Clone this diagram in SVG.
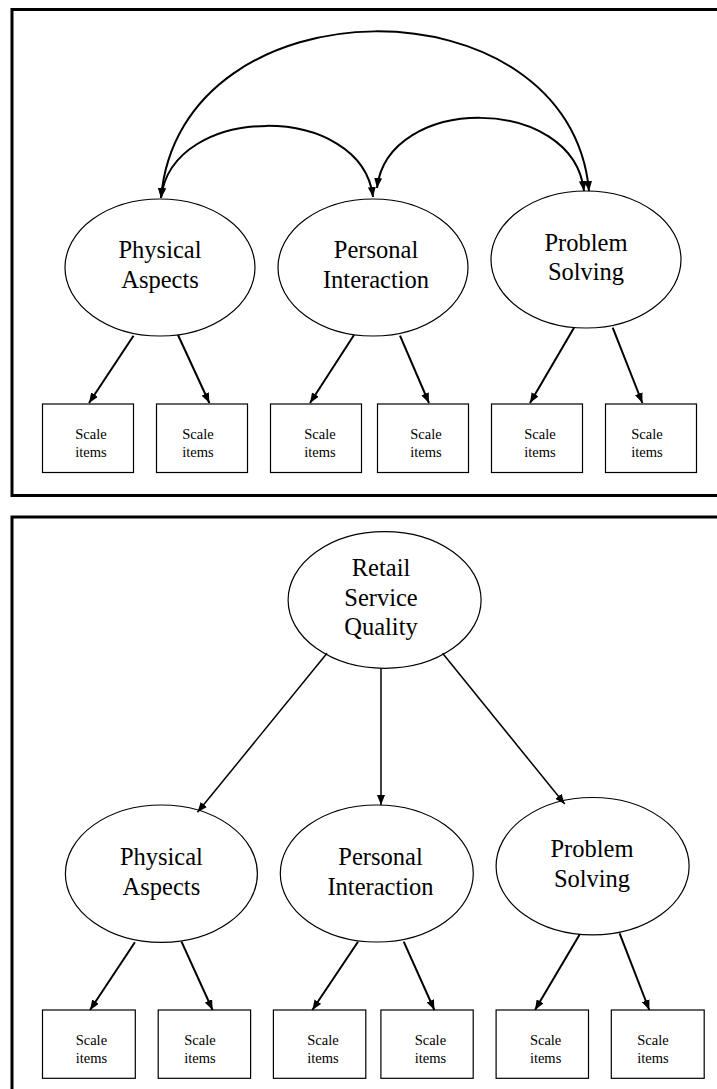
<svg xmlns="http://www.w3.org/2000/svg" width="717" height="1089" viewBox="0 0 717 1089">
<style>
.panel{fill:none;stroke:#000;stroke-width:3}
.lat{fill:#fff;stroke:#000;stroke-width:1.2}
.box{fill:#fff;stroke:#000;stroke-width:1.2}
.big{font-family:"Liberation Serif","Times New Roman",serif;font-size:24.5px;text-anchor:middle;fill:#000}
.small{font-family:"Liberation Serif","Times New Roman",serif;font-size:14.5px;text-anchor:middle;fill:#000}
.arc{fill:none;stroke:#000;stroke-width:2;marker-start:url(#ah);marker-end:url(#ah)}
.ar{fill:none;stroke:#000;stroke-width:2;marker-end:url(#ah)}
.ar1{fill:none;stroke:#000;stroke-width:1.5;marker-end:url(#ah)}
</style>
<defs>
<marker id="ah" viewBox="0 0 10 8" refX="10" refY="4" markerWidth="10" markerHeight="8" markerUnits="userSpaceOnUse" orient="auto-start-reverse">
<path d="M0,0 L10,4 L0,8 Z" fill="#000"/>
</marker>
</defs>
<rect class="panel" x="12" y="9.5" width="720" height="486"/>
<rect class="panel" x="12" y="517" width="720" height="600"/>

<g id="top-physical"><ellipse class="lat" cx="160" cy="267.5" rx="95" ry="68.5"/><text class="big" x="160" y="258">Physical</text><text class="big" x="160" y="288">Aspects</text></g>
<g id="top-personal"><ellipse class="lat" cx="373" cy="267.5" rx="95" ry="68.5"/><text class="big" x="376" y="258">Personal</text><text class="big" x="376" y="288">Interaction</text></g>
<g id="top-problem"><ellipse class="lat" cx="586" cy="259.5" rx="95" ry="68.5"/><text class="big" x="586" y="250.5">Problem</text><text class="big" x="586" y="280">Solving</text></g>

<g id="top-box1"><rect class="box" x="42.5" y="404" width="91" height="68.5"/><text class="small" x="91" y="439">Scale</text><text class="small" x="91" y="457">items</text></g>
<g id="top-box2"><rect class="box" x="156.5" y="404" width="91" height="68.5"/><text class="small" x="198" y="439">Scale</text><text class="small" x="198" y="457">items</text></g>
<g id="top-box3"><rect class="box" x="270.5" y="404" width="91" height="68.5"/><text class="small" x="320" y="439">Scale</text><text class="small" x="320" y="457">items</text></g>
<g id="top-box4"><rect class="box" x="377.5" y="404" width="91" height="68.5"/><text class="small" x="426" y="439">Scale</text><text class="small" x="426" y="457">items</text></g>
<g id="top-box5"><rect class="box" x="491.5" y="404" width="91" height="68.5"/><text class="small" x="540" y="439">Scale</text><text class="small" x="540" y="457">items</text></g>
<g id="top-box6"><rect class="box" x="605.5" y="404" width="91" height="68.5"/><text class="small" x="647" y="439">Scale</text><text class="small" x="647" y="457">items</text></g>

<g id="bot-retail"><ellipse class="lat" cx="384.6" cy="600" rx="96.5" ry="68.3"/><text class="big" x="381" y="576">Retail</text><text class="big" x="381" y="606">Service</text><text class="big" x="381" y="635">Quality</text></g>
<g id="bot-physical"><ellipse class="lat" cx="161.4" cy="873.7" rx="96" ry="68.7"/><text class="big" x="161.4" y="865">Physical</text><text class="big" x="161.4" y="895">Aspects</text></g>
<g id="bot-personal"><ellipse class="lat" cx="376.8" cy="873.5" rx="96.5" ry="68.5"/><text class="big" x="380.5" y="865">Personal</text><text class="big" x="380.5" y="895">Interaction</text></g>
<g id="bot-problem"><ellipse class="lat" cx="592.6" cy="866.2" rx="96.5" ry="68.7"/><text class="big" x="592" y="856.7">Problem</text><text class="big" x="592" y="886.7">Solving</text></g>

<g id="bot-box1"><rect class="box" x="42.5" y="1010" width="92.8" height="68.3"/><text class="small" x="91.4" y="1045">Scale</text><text class="small" x="91.4" y="1063">items</text></g>
<g id="bot-box2"><rect class="box" x="158.2" y="1010" width="92.4" height="68.3"/><text class="small" x="200" y="1045">Scale</text><text class="small" x="200" y="1063">items</text></g>
<g id="bot-box3"><rect class="box" x="273.4" y="1010" width="92.4" height="68.3"/><text class="small" x="323" y="1045">Scale</text><text class="small" x="323" y="1063">items</text></g>
<g id="bot-box4"><rect class="box" x="380.9" y="1010" width="92.3" height="68.3"/><text class="small" x="430.4" y="1045">Scale</text><text class="small" x="430.4" y="1063">items</text></g>
<g id="bot-box5"><rect class="box" x="496.1" y="1010" width="92.4" height="68.3"/><text class="small" x="545.6" y="1045">Scale</text><text class="small" x="545.6" y="1063">items</text></g>
<g id="bot-box6"><rect class="box" x="611.3" y="1010" width="92.9" height="68.3"/><text class="small" x="653" y="1045">Scale</text><text class="small" x="653" y="1063">items</text></g>

<g id="connectors">
<path class="arc" d="M161,198 C180,-23 570,-23 589,191"/>
<path class="arc" d="M161,198 C172,102 362,102 373,197"/>
<path class="arc" d="M377,188 C388,94 573,94 584,191"/>
<path class="ar" d="M133.5,335.7 L89,403"/>
<path class="ar" d="M178,335 L209.4,403"/>
<path class="ar" d="M354,335 L310,403"/>
<path class="ar" d="M400,335.7 L429,403"/>
<path class="ar" d="M574,327.7 L530,403"/>
<path class="ar" d="M612.7,327.7 L642.4,403"/>
<path class="ar1" d="M327,653.3 L197.5,812.3"/>
<path class="ar1" d="M381,668.3 L381,805"/>
<path class="ar1" d="M442.6,653.3 L564.7,804"/>
<path class="ar" d="M134.9,942.3 L90,1010"/>
<path class="ar" d="M181.5,941.7 L212.6,1010"/>
<path class="ar" d="M358,941.7 L312.3,1010"/>
<path class="ar" d="M403.7,941.7 L434.4,1010"/>
<path class="ar" d="M579.8,934.3 L535,1010"/>
<path class="ar" d="M619.6,933.3 L649.3,1010"/>
</g>
</svg>
